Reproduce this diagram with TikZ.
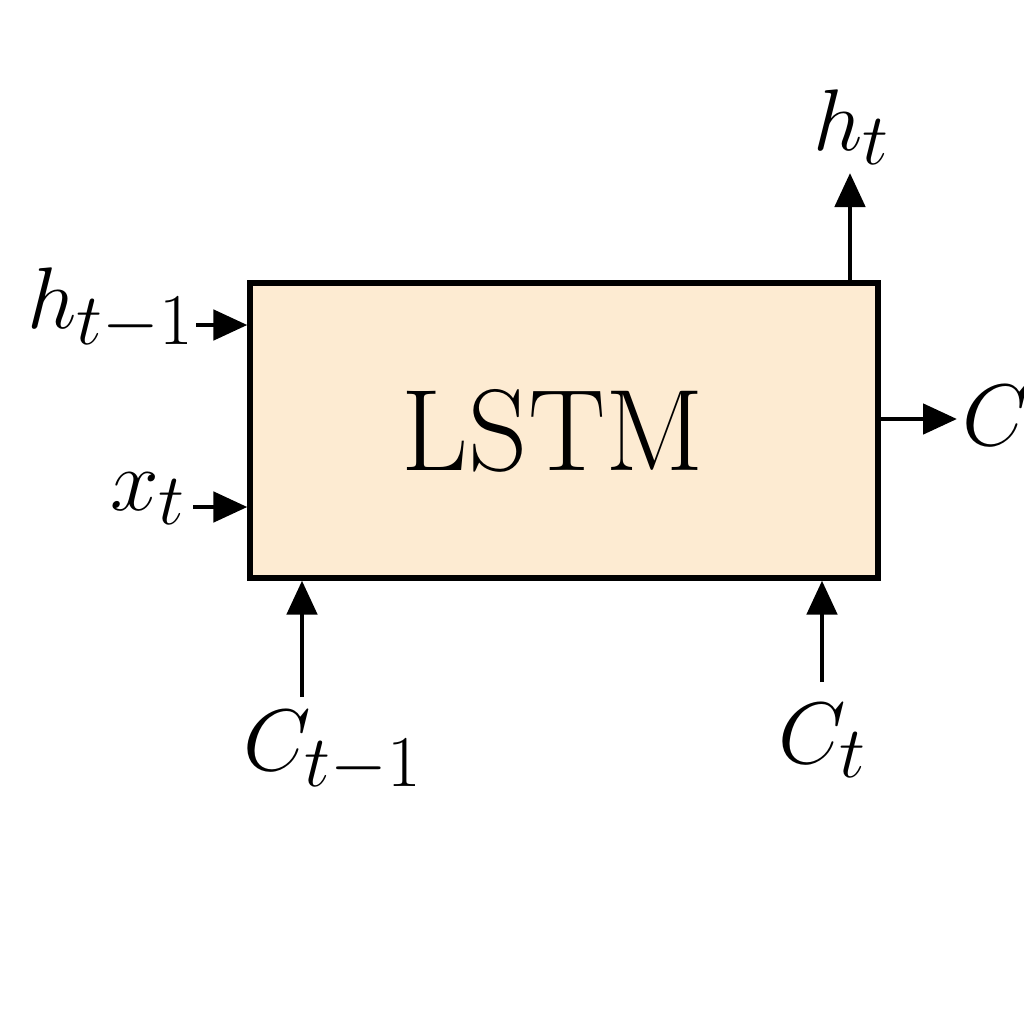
\documentclass[tikz,border=0pt]{standalone}
\usepackage{amsmath, amssymb}
\usepackage{tikz}
\usetikzlibrary{positioning, calc, arrows.meta}
\usepackage{xcolor}
\definecolor{cellfill}{RGB}{253,235,210}

\begin{document}
\begin{tikzpicture}[
    cellbox/.style={draw, line width=1.5pt, fill=cellfill, minimum width=6.28cm, minimum height=2.95cm, font=\fontsize{33}{38}\selectfont},
    lbl/.style={inner sep=0pt, font=\fontsize{27.5}{32}\selectfont},
    arr/.style={line width=1.4pt, -{Triangle[length=3.4mm, width=3mm]}}
]
    \useasboundingbox (0,0) rectangle (10.24,-10.24);

    % LSTM cell
    \node[cellbox] (lstm) at (5.64,-4.305) {LSTM\hspace*{0.22cm}};

    % inputs on the left
    \node[lbl, anchor=base east] (hprev) at (1.95,-3.28) {$h_{t-1}$};
    \node[lbl, anchor=base east] (xin) at (1.87,-5.10) {$x_t$};
    \coordinate (hprevtail) at (1.96,-3.25);
    \coordinate (xintail) at (1.93,-5.07);
    \draw[arr] (hprevtail) -- (hprevtail -| lstm.west);
    \draw[arr] (xintail) -- (xintail -| lstm.west);

    % outputs
    \node[lbl, anchor=base west] (hout) at (8.13,-1.50) {$h_t$};
    \coordinate (houttip) at (8.50,-1.73);
    \draw[arr] (houttip |- lstm.north) -- (houttip);

    \node[lbl, anchor=base west] (cout) at (9.62,-4.45) {$C$};
    \coordinate (covttip) at (9.57,-4.19);
    \draw[arr] (covttip -| lstm.east) -- (covttip);

    % cell states below
    \node[lbl, anchor=base west] (cprev) at (2.43,-7.70) {$C_{t-1}$};
    \node[lbl, anchor=base west] (cnext) at (7.78,-7.63) {$C_t$};
    \coordinate (cprevtail) at (3.02,-6.97);
    \coordinate (cnexttail) at (8.22,-6.82);
    \draw[arr] (cprevtail) -- (cprevtail |- lstm.south);
    \draw[arr] (cnexttail) -- (cnexttail |- lstm.south);
\end{tikzpicture}
\end{document}
